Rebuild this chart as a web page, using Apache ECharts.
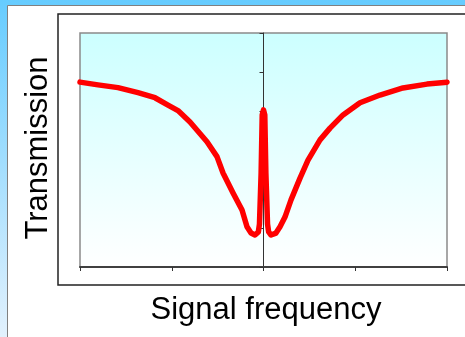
<!DOCTYPE html>
<html>
<head>
<meta charset="utf-8">
<script src="https://cdn.jsdelivr.net/npm/echarts@6/dist/echarts.min.js"></script>
<style>
  html, body { margin: 0; padding: 0; }
  #chart { width: 465px; height: 337px; }
</style>
</head>
<body>
<div id="chart"></div>
<script>
// Detuning of the signal (arbitrary units) and measured transmission
const frequency = [
  -200, -180.4, -158.6, -136.8, -118.3, -104.1, -93.2, -80.1, -61.6, -50.7,
  -44.1, -33.2, -23.4, -18.0, -13.6, -9.3, -5.6, -4.4, -2.6, -1.4, 0,
  1.4, 2.6, 4.4, 5.6, 8.2, 13.6, 18.0, 23.4, 30.0, 39.8, 48.5,
  61.6, 72.5, 86.7, 105.2, 127.0, 152.0, 178.2, 200
];
const transmission = [
  4.74, 4.67, 4.60, 4.47, 4.34, 4.15, 4.01, 3.72, 3.21, 2.83,
  2.41, 1.90, 1.46, 1.03, 0.87, 0.82, 0.90, 1.10, 2.40, 3.90, 4.03,
  3.90, 2.40, 1.10, 0.90, 0.82, 0.87, 1.03, 1.28, 1.72, 2.28, 2.74,
  3.26, 3.56, 3.90, 4.21, 4.41, 4.59, 4.69, 4.74
];
const xTitle = 'Signal frequency';
const yTitle = 'Transmission';

const points = frequency.map((f, i) => [f, transmission[i]]);

const chart = echarts.init(document.getElementById('chart'), null, { renderer: 'canvas' });
chart.setOption({
  animation: false,
  graphic: [
    { type: 'rect', z: -30, silent: true,
      shape: { x: 0, y: 0, width: 465, height: 337 },
      style: { fill: new echarts.graphic.LinearGradient(0, 0, 0, 1, [
        { offset: 0, color: '#66ccff' }, { offset: 1, color: '#e2f1fd' }]) } },
    { type: 'rect', z: -20, silent: true,
      shape: { x: 7.5, y: 5.5, width: 470, height: 340 },
      style: { fill: '#ffffff', stroke: '#808080', lineWidth: 1 } },
    { type: 'rect', z: -10, silent: true,
      shape: { x: 58, y: 14, width: 420, height: 271 },
      style: { fill: '#ffffff', stroke: '#222222', lineWidth: 1.5 } },
    { type: 'text', z: 10, x: 266, y: 310,
      style: { text: xTitle, fontFamily: 'Liberation Sans, Arial, sans-serif', fontSize: 31,
        fill: '#000', textAlign: 'center', textVerticalAlign: 'middle' } },
    { type: 'text', z: 10, x: 38, y: 148, rotation: Math.PI / 2,
      style: { text: yTitle, fontFamily: 'Liberation Sans, Arial, sans-serif', fontSize: 31,
        fill: '#000', textAlign: 'center', textVerticalAlign: 'middle' } }
  ],
  grid: {
    left: 80, top: 33, right: 18, bottom: 70,
    show: true,
    borderColor: '#8a8a8a',
    borderWidth: 1.5,
    backgroundColor: new echarts.graphic.LinearGradient(0, 0, 0, 1, [
      { offset: 0, color: '#ccffff' }, { offset: 1, color: '#ffffff' }])
  },
  xAxis: {
    type: 'value', min: -200, max: 200, interval: 100,
    axisLine: { show: true, lineStyle: { color: '#404040', width: 2 } },
    axisTick: { show: true, length: 4, lineStyle: { color: '#333', width: 1 } },
    axisLabel: { show: false },
    splitLine: { show: false }
  },
  yAxis: {
    type: 'value', min: 0, max: 6, interval: 1,
    axisLine: { show: true, onZero: true, lineStyle: { color: '#333', width: 1 } },
    axisTick: { show: true, length: 4, lineStyle: { color: '#333', width: 1 } },
    axisLabel: { show: false },
    splitLine: { show: false }
  },
  series: [{
    type: 'line',
    data: points,
    showSymbol: false,
    smooth: false,
    z: 5,
    lineStyle: { color: '#ff0000', width: 5.5, join: 'round', cap: 'round' }
  }]
});
</script>
</body>
</html>
